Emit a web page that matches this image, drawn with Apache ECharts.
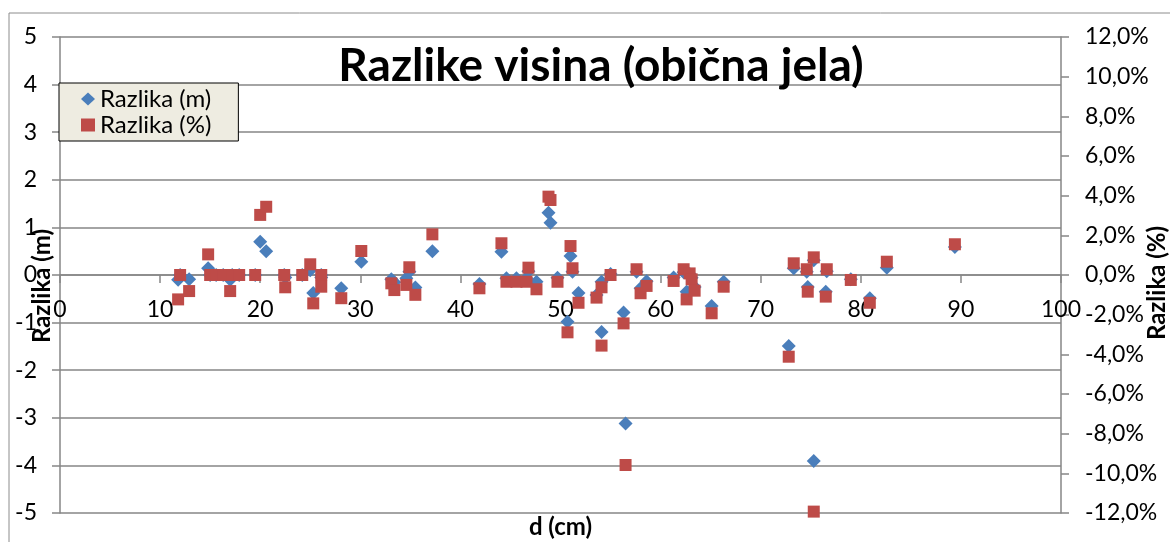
<!DOCTYPE html>
<html>
<head>
<meta charset="utf-8">
<script src="https://cdn.jsdelivr.net/npm/echarts@6/dist/echarts.min.js"></script>
<style>
  html, body { margin: 0; padding: 0; background: #fff; }
  #chart { width: 1170px; height: 542px; }
</style>
</head>
<body>
<div id="chart"></div>
<script>
// promjer (cm)
var d = [11.8, 12.0, 12.9, 14.8, 15.0, 15.6, 16.3, 17.0, 17.2, 17.9, 19.5, 20.0, 20.6, 22.4, 22.5,
  24.2, 25.0, 25.3, 26.1, 26.1, 28.1, 30.1, 33.1, 33.4, 34.6, 34.9, 35.5, 37.2, 41.9, 44.1,
  44.6, 45.6, 46.6, 46.8, 47.6, 48.8, 49.0, 49.7, 50.7, 51.0, 51.2, 51.8, 53.6, 54.1, 54.1,
  55.0, 56.3, 56.5, 57.6, 58.0, 58.6, 61.3, 62.3, 62.9, 63.1, 62.6, 63.4, 65.1, 66.3, 72.8,
  73.3, 74.6, 74.7, 75.3, 75.3, 76.5, 76.6, 79.0, 80.9, 82.6, 89.4];
// razlika visina (m)
var razlikaM = [-0.10, 0.00, -0.09, 0.14, 0.00, 0.00, 0.00, -0.10, 0.00, 0.00, 0.00, 0.70, 0.50, 0.00, -0.05,
  0.00, 0.10, -0.38, 0.00, -0.05, -0.28, 0.28, -0.09, -0.15, -0.07, 0.07, -0.26, 0.50, -0.19, 0.49,
  -0.07, -0.07, -0.07, 0.08, -0.14, 1.31, 1.10, -0.06, -0.98, 0.40, 0.07, -0.38, -0.42, -0.14, -1.20,
  0.02, -0.79, -3.12, 0.07, -0.28, -0.13, -0.05, 0.06, 0.02, -0.06, -0.35, -0.25, -0.65, -0.14, -1.49,
  0.14, 0.07, -0.25, 0.31, -3.91, -0.35, 0.08, -0.09, -0.49, 0.15, 0.59];
// razlika visina (%)
var razlikaPct = [-1.23, 0.00, -0.81, 1.04, 0.00, 0.00, 0.00, -0.81, 0.00, 0.00, 0.00, 3.03, 3.44, 0.00, -0.62,
  0.00, 0.54, -1.43, 0.00, -0.59, -1.17, 1.21, -0.42, -0.76, -0.50, 0.39, -1.00, 2.05, -0.67, 1.60,
  -0.34, -0.34, -0.34, 0.37, -0.72, 3.95, 3.78, -0.34, -2.89, 1.46, 0.34, -1.40, -1.14, -0.62, -3.56,
  0.00, -2.44, -9.58, 0.29, -0.92, -0.55, -0.30, 0.29, 0.08, -0.22, -1.23, -0.79, -1.93, -0.59, -4.12,
  0.59, 0.29, -0.84, 0.89, -11.93, -1.09, 0.29, -0.25, -1.40, 0.67, 1.55];

var font = 'Lato, "Open Sans", sans-serif';
var gridColor = '#868686';

var chart = echarts.init(document.getElementById('chart'));
chart.setOption({
  animation: false,
  textStyle: { fontFamily: font },
  title: {
    text: 'Razlike visina (obična jela)',
    left: 596,
    top: 38,
    textAlign: 'center',
    textStyle: { fontSize: 46, fontWeight: 'bold', color: '#000', fontFamily: font }
  },
  legend: {
    orient: 'vertical',
    left: 59,
    top: 83,
    backgroundColor: '#eeece1',
    borderColor: '#000',
    borderWidth: 1,
    borderRadius: 0,
    padding: [4, 27, 4, 22],
    itemGap: 2,
    itemWidth: 14,
    itemHeight: 13,
    textStyle: { fontSize: 24, color: '#000', fontFamily: font },
    data: ['Razlika (m)', 'Razlika (%)']
  },
  graphic: [{
    type: 'rect',
    shape: { x: 9, y: 13, width: 1300, height: 700 },
    style: { fill: 'none', stroke: '#8c8c8c', lineWidth: 1 },
    silent: true
  }],
  grid: { left: 60, right: 109, top: 37, bottom: 29, outerBoundsMode: 'none', containLabel: false },
  xAxis: {
    type: 'value',
    min: 0, max: 100, interval: 10,
    position: 'bottom',
    offset: -238,
    name: 'd (cm)',
    nameLocation: 'middle',
    nameGap: 240,
    nameMoveOverlap: false,
    nameTextStyle: { fontSize: 24, fontWeight: 'bold', color: '#000' },
    axisLine: { onZero: false, lineStyle: { color: gridColor, width: 1.5 } },
    axisTick: { show: true, length: 8, lineStyle: { color: gridColor, width: 1.5 } },
    axisLabel: { fontSize: 23, color: '#000', margin: 23 },
    splitLine: { show: false }
  },
  yAxis: [{
    type: 'value',
    min: -5, max: 5, interval: 1,
    position: 'left',
    name: 'Razlika (m)',
    nameLocation: 'middle',
    nameGap: 6,
    nameRotate: 90,
    nameMoveOverlap: false,
    nameTextStyle: { fontSize: 24, fontWeight: 'bold', color: '#000', padding: [0, 22, 0, 0] },
    axisLine: { show: true, onZero: false, lineStyle: { color: gridColor, width: 1.5 } },
    axisTick: { show: true, length: 8, lineStyle: { color: gridColor, width: 1.5 } },
    axisLabel: { fontSize: 23, color: '#000', margin: 23 },
    splitLine: { show: true, lineStyle: { color: gridColor, width: 1.5 } }
  }, {
    type: 'value',
    min: -12, max: 12, interval: 2,
    position: 'right',
    name: 'Razlika (%)',
    nameLocation: 'middle',
    nameGap: 84,
    nameRotate: 90,
    nameMoveOverlap: false,
    nameTextStyle: { fontSize: 24, fontWeight: 'bold', color: '#000', padding: [0, 16, 0, 0] },
    axisLine: { show: true, onZero: false, lineStyle: { color: gridColor, width: 1.5 } },
    axisTick: { show: true, length: 8, lineStyle: { color: gridColor, width: 1.5 } },
    axisLabel: {
      fontSize: 23, color: '#000', margin: 24,
      formatter: function (v) { return v.toFixed(1).replace('.', ',') + '%'; }
    },
    splitLine: { show: false }
  }],
  series: [{
    name: 'Razlika (m)',
    type: 'scatter',
    yAxisIndex: 0,
    symbol: 'diamond',
    symbolSize: 14,
    itemStyle: { color: '#4a7ebb', opacity: 1 },
    data: d.map(function (x, i) { return [x, razlikaM[i]]; })
  }, {
    name: 'Razlika (%)',
    type: 'scatter',
    yAxisIndex: 1,
    symbol: 'rect',
    symbolSize: 12,
    itemStyle: { color: '#be4b48', opacity: 1 },
    data: d.map(function (x, i) { return [x, razlikaPct[i]]; })
  }]
});
</script>
</body>
</html>
